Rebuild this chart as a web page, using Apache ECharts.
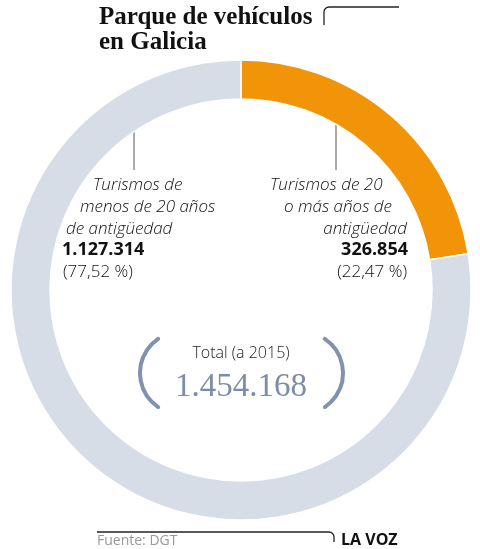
<!DOCTYPE html>
<html>
<head>
<meta charset="utf-8">
<script src="https://cdn.jsdelivr.net/npm/echarts@6/dist/echarts.min.js"></script>
<style>
  html, body { margin: 0; padding: 0; background: #fff; }
  #main { width: 480px; height: 549px; }
</style>
</head>
<body>
<div id="main"></div>
<script>
// datos (DGT, 2015)
var categorias = ['Turismos de 20 o más años de antigüedad', 'Turismos de menos de 20 años de antigüedad'];
var valores = [326854, 1127314];
var porcentajes = ['22,47 %', '77,52 %'];
var colores = ['#F29408', '#D6DDE7'];
var total = 1454168;

function fmt(n) {
    return String(n).replace(/\B(?=(\d{3})+(?!\d))/g, '.');
}

var myChart = echarts.init(document.getElementById('main'));

var labelFont = 'Open Sans';
var ink = '#111';

function txt(s, x, y, opt) {
    opt = opt || {};
    return {
        type: 'text',
        x: x, y: y,
        silent: true,
        style: {
            text: s,
            fill: opt.fill || ink,
            fontFamily: opt.family || labelFont,
            fontSize: opt.size || 17,
            fontWeight: opt.weight || 300,
            fontStyle: opt.style || 'normal',
            textAlign: opt.align || 'left',
            textVerticalAlign: 'middle'
        }
    };
}

function seg(x1, y1, x2, y2, w, c) {
    return { type: 'line', silent: true, shape: { x1: x1, y1: y1, x2: x2, y2: y2 }, style: { stroke: c || '#222', lineWidth: w || 1.3 } };
}

function corner(cx, cy, a0, a1) {
    return {
        type: 'arc', silent: true,
        shape: { cx: cx, cy: cy, r: 5, startAngle: a0, endAngle: a1, clockwise: true },
        style: { stroke: '#222', lineWidth: 1.3, fill: null }
    };
}

var option = {
    backgroundColor: '#fff',
    animation: false,
    series: [{
        type: 'pie',
        center: [241, 290],
        radius: [191, 230],
        startAngle: 90,
        clockwise: true,
        label: { show: false },
        labelLine: { show: false },
        itemStyle: {
            borderColor: '#fff',
            borderWidth: 1.5
        },
        data: categorias.map(function (c, i) {
            return { name: c, value: valores[i], itemStyle: { color: colores[i] } };
        })
    }],
    graphic: [
        // titulo
        txt('Parque de vehículos', 99, 18, { family: 'Liberation Serif', size: 25, weight: 'bold', fill: '#111' }),
        txt('en Galicia', 99, 43, { family: 'Liberation Serif', size: 25, weight: 'bold', fill: '#111' }),
        seg(324, 25, 324, 12),
        corner(329, 12, Math.PI, Math.PI * 1.5),
        seg(329, 7, 399, 7),
        // lineas guia
        seg(134, 113, 134, 170, 1, '#555'),
        seg(336, 113, 336, 170, 1, '#555'),
        // etiqueta izquierda
        txt('Turismos de', 93, 185, { style: 'italic' }),
        txt('menos de 20 años', 80, 207, { style: 'italic' }),
        txt('de antigüedad', 66, 229, { style: 'italic' }),
        txt(fmt(valores[1]), 62, 250, { size: 18, weight: 'bold', fill: '#111' }),
        txt('(' + porcentajes[1] + ')', 63, 272, { size: 17 }),
        // etiqueta derecha
        txt('Turismos de 20', 270, 185, { style: 'italic' }),
        txt('o más años de', 284, 207, { style: 'italic' }),
        txt('antigüedad', 407, 229, { style: 'italic', align: 'right' }),
        txt(fmt(valores[0]), 408, 250, { size: 18, weight: 'bold', fill: '#111', align: 'right' }),
        txt('(' + porcentajes[0] + ')', 407, 272, { size: 17, align: 'right' }),
        // total
        txt('Total (a 2015)', 241, 353, { size: 16, align: 'center', fill: '#222' }),
        txt(fmt(total), 241, 387, { family: 'Liberation Serif', size: 33, weight: 'normal', align: 'center', fill: '#7D8DA8' }),
        {
            type: 'arc', silent: true,
            shape: { cx: 181, cy: 373, r: 41, startAngle: Math.PI - 0.98, endAngle: Math.PI + 0.98, clockwise: true },
            style: { stroke: '#8092AE', lineWidth: 4, fill: null, lineCap: 'round' }
        },
        {
            type: 'arc', silent: true,
            shape: { cx: 302, cy: 373, r: 41, startAngle: -0.98, endAngle: 0.98, clockwise: true },
            style: { stroke: '#8092AE', lineWidth: 4, fill: null, lineCap: 'round' }
        },
        // pie de grafico
        seg(97, 532, 329, 532),
        corner(329, 537, -Math.PI / 2, 0),
        seg(334, 537, 334, 542),
        txt('Fuente: DGT', 97, 541, { size: 14, weight: 'normal', fill: '#999' }),
        txt('LA VOZ', 341, 540, { size: 16, weight: 'bold', fill: '#111' })
    ]
};

myChart.setOption(option);
</script>
</body>
</html>
